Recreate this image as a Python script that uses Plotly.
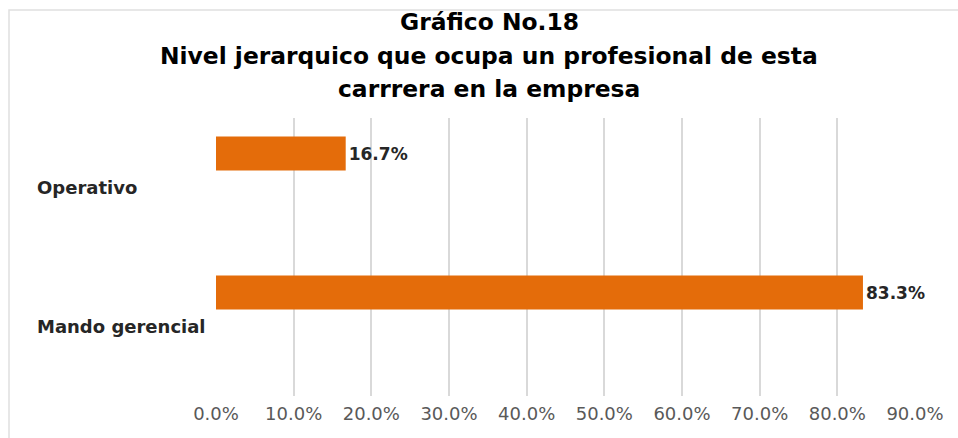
import plotly.graph_objects as go

categories = ["Operativo", "Mando gerencial"]
values = [0.167, 0.833]
value_labels = ["16.7%", "83.3%"]
x_ticks = [0.0, 0.1, 0.2, 0.3, 0.4, 0.5, 0.6, 0.7, 0.8, 0.9]
x_tick_labels = ["0.0%", "10.0%", "20.0%", "30.0%", "40.0%", "50.0%", "60.0%", "70.0%", "80.0%", "90.0%"]
title_lines = ["Gráfico No.18", "Nivel jerarquico que ocupa un profesional de esta", "carrrera en la empresa"]

W, H = 958, 438
L, R, T, B = 216, 43, 118, 42
pw = W - L - R
ph = H - T - B

def px_x(x):
    return (x - L) / pw

def px_y(y):
    return (H - B - y) / ph

fig = go.Figure()
fig.add_trace(go.Bar(
    y=categories, x=values, orientation="h",
    marker=dict(color="#E46C0A", line=dict(width=0)),
    offset=-0.367, width=0.245,
    text=value_labels, textposition="outside",
    textfont=dict(family="DejaVu Sans", size=17, color="#262626", weight="bold"),
    cliponaxis=False, hoverinfo="skip",
))

annotations = []
for c in categories:
    annotations.append(dict(
        x=px_x(35), xref="paper", y=c, yref="y",
        text="<b>" + c + "</b>", showarrow=False, xanchor="left", yanchor="middle",
        font=dict(family="DejaVu Sans", size=18, color="#262626"),
    ))

title_y = [22, 56, 89]
for line, ty in zip(title_lines, title_y):
    annotations.append(dict(
        x=px_x(489), xref="paper", y=px_y(ty), yref="paper",
        text="<b>" + line + "</b>", showarrow=False, xanchor="center", yanchor="middle",
        font=dict(family="DejaVu Sans", size=23.4, color="#000000"),
    ))

fig.update_layout(
    width=W, height=H,
    margin=dict(l=L, r=R, t=T, b=B),
    paper_bgcolor="white", plot_bgcolor="white",
    showlegend=False,
    xaxis=dict(
        range=[0, 0.9], tickvals=x_ticks, ticktext=x_tick_labels,
        showgrid=True, gridcolor="#D9D9D9", gridwidth=1.5,
        zeroline=False, showline=False, ticks="",
        ticklabelstandoff=5,
        tickfont=dict(family="DejaVu Sans", size=18, color="#595959"),
    ),
    yaxis=dict(
        autorange="reversed", showticklabels=False, showgrid=False,
        zeroline=False, showline=False, ticks="",
    ),
    annotations=annotations,
    shapes=[dict(
        type="rect", xref="paper", yref="paper",
        x0=px_x(9), x1=px_x(W + 20),
        y0=px_y(H + 20), y1=px_y(10),
        line=dict(color="#E0E0E0", width=1.5), fillcolor="rgba(0,0,0,0)", layer="below",
    )],
)

fig.write_html("out.html", config={"displayModeBar": False},
               post_script="document.body.style.margin='0';")
